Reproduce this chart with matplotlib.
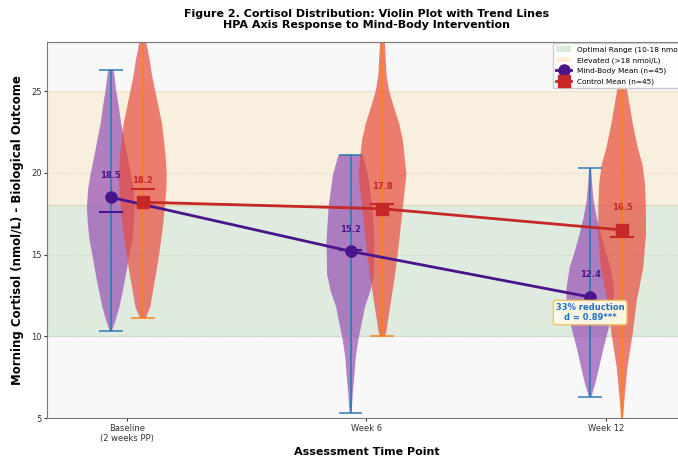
import matplotlib.pyplot as plt
from matplotlib.patches import Patch
from matplotlib.lines import Line2D

# Time points (weeks) and labels
weeks = [0, 6, 12]
tick_labels = ['Baseline\n(2 weeks PP)', 'Week 6', 'Week 12']

# Group summary values
mb_means = [18.5, 15.2, 12.4]
ctl_means = [18.2, 17.8, 16.5]
mb_medians = [17.6, 15.3, 11.5]
ctl_medians = [19.0, 18.1, 16.1]

# Density profiles (cortisol level, relative width)
mb_base_y = [10.3, 11.0, 11.8, 13.0, 13.8, 15.0, 15.85, 17.0, 17.9, 19.0, 19.9, 21.0, 22.0, 23.0, 24.0, 25.0, 26.0, 26.3]
mb_base_w = [0.04, 0.2, 0.35, 0.52, 0.62, 0.76, 0.87, 0.95, 0.98, 0.93, 0.83, 0.68, 0.55, 0.42, 0.33, 0.22, 0.14, 0.11]
ctl_base_y = [11.1, 11.8, 13.0, 13.8, 15.0, 15.85, 17.0, 17.9, 19.0, 19.9, 21.0, 22.0, 23.0, 24.0, 25.0, 26.0, 26.8, 28.0, 29.0, 30.0, 31.0]
ctl_base_w = [0.12, 0.31, 0.45, 0.55, 0.68, 0.76, 0.86, 0.92, 0.98, 1.0, 0.95, 0.88, 0.8, 0.66, 0.52, 0.38, 0.3, 0.14, 0.07, 0.03, 0.01]

mb_w6_y = [5.3, 5.7, 6.7, 7.7, 8.7, 9.76, 10.8, 11.8, 12.8, 13.8, 15.85, 17.9, 19.9, 21.1]
mb_w6_w = [0.03, 0.06, 0.1, 0.16, 0.21, 0.31, 0.45, 0.58, 0.8, 0.94, 0.96, 0.88, 0.7, 0.48]
ctl_w6_y = [10.0, 10.2, 11.8, 13.8, 15.85, 17.9, 19.9, 22.0, 23.0, 24.0, 25.0, 26.0, 28.0, 29.0, 30.0, 31.0]
ctl_w6_w = [0.1, 0.15, 0.32, 0.53, 0.7, 0.85, 1.0, 0.85, 0.7, 0.48, 0.28, 0.17, 0.1, 0.06, 0.03, 0.01]

mb_w12_y = [6.3, 7.1, 8.0, 9.15, 10.2, 11.2, 12.0, 12.8, 14.2, 15.2, 16.3, 17.3, 18.3, 19.3, 20.3]
mb_w12_w = [0.05, 0.21, 0.35, 0.52, 0.7, 0.87, 0.94, 0.97, 0.83, 0.62, 0.42, 0.26, 0.14, 0.08, 0.04]
ctl_w12_y = [3.5, 5.0, 6.1, 8.1, 10.2, 12.2, 14.2, 16.3, 18.0, 19.3, 20.5, 21.5, 23.0, 25.0, 26.8, 28.5, 30.5]
ctl_w12_w = [0.02, 0.04, 0.09, 0.21, 0.42, 0.58, 0.83, 0.94, 0.93, 0.9, 0.8, 0.62, 0.42, 0.2, 0.12, 0.06, 0.02]

mb_profiles = [(mb_base_y, mb_base_w), (mb_w6_y, mb_w6_w), (mb_w12_y, mb_w12_w)]
ctl_profiles = [(ctl_base_y, ctl_base_w), (ctl_w6_y, ctl_w6_w), (ctl_w12_y, ctl_w12_w)]

MB_COLOR = '#9b59b6'
CTL_COLOR = '#e74c3c'
MB_DARK = '#4a148c'
CTL_DARK = '#c62828'


def make_stats(profiles, means, medians):
    stats = []
    for (ys, ws), m, md in zip(profiles, means, medians):
        stats.append({'coords': ys, 'vals': ws, 'mean': m, 'median': md,
                      'min': ys[0], 'max': ys[-1]})
    return stats


fig = plt.figure(figsize=(6.78, 4.59), dpi=100)
ax = fig.add_axes([0.0693, 0.0893, 0.9425, 0.8192])
ax.set_facecolor('#f8f8f8')

# Reference bands
ax.axhspan(10, 18, color='green', alpha=0.1, zorder=0)
ax.axhspan(18, 25, color='orange', alpha=0.1, zorder=0)

offset = 0.4
mb_pos = [w - offset for w in weeks]
ctl_pos = [w + offset for w in weeks]

for profs, means, meds, pos, fc, lc, medc, a in [
        (mb_profiles, mb_means, mb_medians, mb_pos, MB_COLOR, 'C0', MB_DARK, 0.75),
        (ctl_profiles, ctl_means, ctl_medians, ctl_pos, CTL_COLOR, 'C1', CTL_DARK, 0.7)]:
    vp = ax.violin(make_stats(profs, means, meds), positions=pos, widths=1.2,
                   showmeans=False, showextrema=True, showmedians=True)
    for body in vp['bodies']:
        body.set_facecolor(fc)
        body.set_edgecolor('none')
        body.set_alpha(a)
    for key in ['cbars', 'cmins', 'cmaxes']:
        vp[key].set_color(lc)
        vp[key].set_linewidth(1.3)
        vp[key].set_alpha(0.8)
    vp['cmedians'].set_color(medc)
    vp['cmedians'].set_linewidth(1.5)

# Trend lines through the means
ax.plot(mb_pos, mb_means, color=MB_DARK, marker='o', markersize=8, linewidth=2, zorder=5)
ax.plot(ctl_pos, ctl_means, color=CTL_DARK, marker='s', markersize=8, linewidth=2, zorder=5)

for x, m in zip(mb_pos, mb_means):
    ax.text(x, m + 1.35, f'{m:.1f}', ha='center', va='center', fontsize=6,
            fontweight='bold', color=MB_DARK, zorder=6)
for x, m in zip(ctl_pos, ctl_means):
    ax.text(x, m + 1.35, f'{m:.1f}', ha='center', va='center', fontsize=6,
            fontweight='bold', color=CTL_DARK, zorder=6)

ax.text(mb_pos[2], 11.45, '33% reduction\nd = 0.89***', ha='center', va='center',
        fontsize=6, fontweight='bold', color='#1f6fc5', zorder=7,
        bbox=dict(boxstyle='round,pad=0.3', facecolor='#fffbe6', edgecolor='#f2c261', alpha=0.95))

ax.set_xlim(-2, 14)
ax.set_ylim(5, 28)
ax.set_xticks(weeks)
ax.set_xticklabels(tick_labels)
ax.set_yticks([5, 10, 15, 20, 25])
ax.tick_params(labelsize=6, colors='#333333', length=2.5, pad=1.5)
ax.yaxis.grid(True, linestyle=':', alpha=0.4)
ax.set_axisbelow(True)
for s in ax.spines.values():
    s.set_color('#777777')

ax.set_xlabel('Assessment Time Point', fontsize=8, fontweight='bold', labelpad=3)
ax.set_ylabel('Morning Cortisol (nmol/L) - Biological Outcome', fontsize=8.5, fontweight='bold', labelpad=5)
ax.set_title('Figure 2. Cortisol Distribution: Violin Plot with Trend Lines\n'
             'HPA Axis Response to Mind-Body Intervention',
             fontsize=8, fontweight='bold', pad=10)

handles = [
    Patch(facecolor='green', alpha=0.15, label='Optimal Range (10-18 nmol/L)'),
    Patch(facecolor='orange', alpha=0.15, label='Elevated (>18 nmol/L)'),
    Line2D([], [], color=MB_DARK, marker='o', markersize=8, linewidth=2, label='Mind-Body Mean (n=45)'),
    Line2D([], [], color=CTL_DARK, marker='s', markersize=8, linewidth=2, label='Control Mean (n=45)'),
]
leg = ax.legend(handles=handles, loc='upper right', bbox_to_anchor=(1.012, 1.0), fontsize=5.3,
                framealpha=0.97, labelspacing=0.55, borderaxespad=0.2)
leg.set_zorder(10)

fig.savefig('out.png', dpi=100)
